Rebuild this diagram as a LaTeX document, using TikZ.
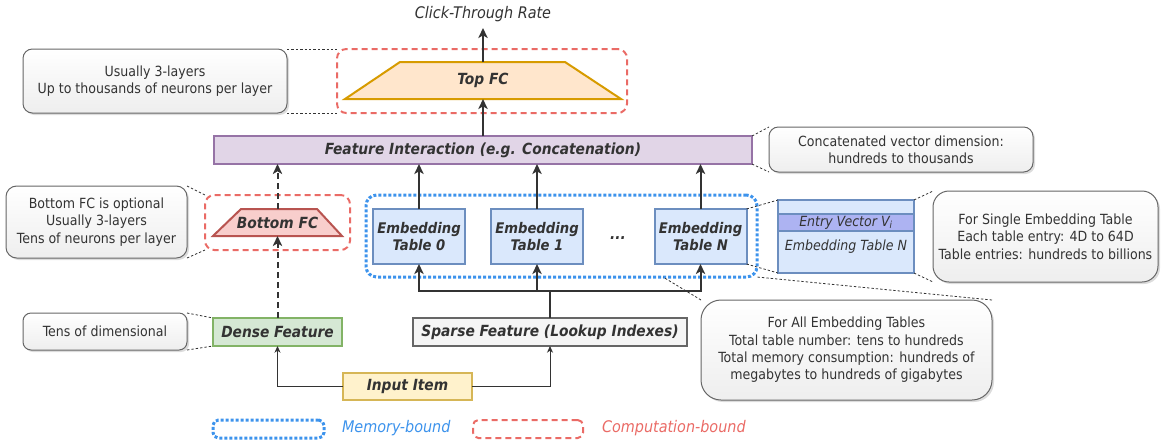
\documentclass[tikz,border=0pt]{standalone}
\usepackage{fontspec}
\setmainfont{DejaVuSansCondensed}[Extension=.ttf, UprightFont=*, BoldFont=*-Bold, ItalicFont=*-Oblique, BoldItalicFont=*-BoldOblique]
\usetikzlibrary{arrows.meta,shadows}
\definecolor{txt}{HTML}{333333}
\definecolor{annline}{HTML}{666666}
\definecolor{anngray}{HTML}{EEEEEE}
\definecolor{redc}{HTML}{EA6B66}
\definecolor{bluec}{HTML}{3D93EC}
\definecolor{topfill}{HTML}{FFE6CC}
\definecolor{topline}{HTML}{D79B00}
\definecolor{botfill}{HTML}{F8CECC}
\definecolor{botline}{HTML}{B85450}
\definecolor{fifill}{HTML}{E1D5E7}
\definecolor{filine}{HTML}{9673A6}
\definecolor{etfill}{HTML}{DAE8FC}
\definecolor{etline}{HTML}{6C8EBF}
\definecolor{entryfill}{HTML}{ADB3F2}
\definecolor{dnfill}{HTML}{D5E8D4}
\definecolor{dnline}{HTML}{82B366}
\definecolor{spfill}{HTML}{F5F5F5}
\definecolor{spline}{HTML}{666666}
\definecolor{infill}{HTML}{FFF2CC}
\definecolor{inline}{HTML}{D6B656}
\begin{document}
\begin{tikzpicture}[x=0.75pt,y=-0.75pt,
  sz/.style 2 args={minimum width=#1*0.75pt, minimum height=#2*0.75pt},
  base/.style={inner sep=0pt, outer sep=0pt, align=center, text=txt},
  lbl/.style={base, font=\fontsize{11.5}{14}\selectfont\bfseries\itshape},
  blk/.style={lbl, draw, line width=1.5pt},
  tbl/.style={blk, draw=etline, fill=etfill, sz={92}{55}, font=\fontsize{11}{12.75}\selectfont\bfseries\itshape},
  ann/.style={base, draw=annline, line width=0.75pt, top color=white, bottom color=anngray,
    drop shadow={shadow xshift=1.5pt, shadow yshift=-1.5pt, fill=black!30, opacity=0.45},
    font=\fontsize{10.5}{13}\selectfont},
  cgrp/.style={base, draw=redc, line width=1.5pt, dash pattern=on 4.5pt off 3pt, rounded corners=7pt},
  mgrp/.style={base, draw=bluec, line width=2.25pt, dash pattern=on 2.25pt off 1.5pt, rounded corners=8pt},
  arr/.style={draw=txt, line width=1.5pt, -{Stealth[length=7.5pt,width=7pt,inset=2pt]}},
  darr/.style={arr, dash pattern=on 4.5pt off 3pt},
  tarr/.style={draw=txt, line width=0.75pt, -{Stealth[length=5pt,width=4.5pt,inset=1.5pt]}},
  dline/.style={draw=txt, line width=0.6pt, dash pattern=on 1.8pt off 1.5pt},
  legtxt/.style={base, anchor=west, font=\fontsize{12}{14}\selectfont\itshape}]
\useasboundingbox (0,0) rectangle (1167,444);

% top part
\node[base, font=\fontsize{12}{14}\selectfont\itshape, minimum height=28*0.75pt] (ctr) at (483,14) {Click-Through Rate};
\node[cgrp, sz={290}{64}] (topgrp) at (482,81) {};
\draw[line width=1.5pt, draw=topline, fill=topfill] (345,99) -- (400,62) -- (565,62) -- (621,99) -- cycle;
\node[lbl, sz={276}{37}] (topfc) at (483,80.5) {Top FC};
\node[blk, draw=filine, fill=fifill, sz={538}{28}] (fi) at (483,150) {Feature Interaction (e.g. Concatenation)};
\node[ann, rounded corners=7pt, sz={264}{64}] (ann1) at (155,81) {Usually 3-layers\\Up to thousands of neurons per layer};
\node[ann, rounded corners=7pt, sz={264}{45}] (ann4) at (901,149.5) {Concatenated vector dimension:\\hundreds to thousands};

% bottom FC
\node[cgrp, sz={145}{55}] (botgrp) at (277.5,222.5) {};
\draw[line width=1.5pt, draw=botline, fill=botfill] (213,236) -- (241,209) -- (317,209) -- (342,236) -- cycle;
\node[lbl, sz={129}{27}] (botfc) at (277.5,222.5) {Bottom FC};
\node[ann, rounded corners=8pt, sz={181}{72}] (ann2) at (96.5,222) {Bottom FC is optional\\Usually 3-layers\\Tens of neurons per layer};

% embedding tables
\node[mgrp, sz={391}{82}] (embgrp) at (561.5,236) {};
\node[tbl] (et0) at (419,236.5) {Embedding\\Table 0};
\node[tbl] (et1) at (537,236.5) {Embedding\\Table 1};
\node[tbl] (etN) at (700.5,236.5) {Embedding\\Table N};
\node[lbl] (dots) at (618,238) {...};

% detail of a table
\node[base, draw=etline, fill=etfill, line width=1.1pt, sz={136}{73}] (det) at (846,236.5) {};
\node[base, draw=etline, fill=entryfill, line width=1.1pt, sz={136}{17}, font=\fontsize{10.5}{12}\selectfont\itshape] (entry) at (846,222.5) {Entry Vector V\textsubscript{i}};
\node[base, font=\fontsize{10.5}{12}\selectfont\itshape] (dettxt) at (846,247) {Embedding Table N};
\node[ann, rounded corners=12pt, sz={225}{91}] (ann3) at (1045.5,236.5) {For Single Embedding Table\\Each table entry: 4D to 64D\\Table entries: hundreds to billions};

% inputs
\node[blk, draw=dnline, fill=dnfill, sz={129}{28}] (dense) at (277.5,332) {Dense Feature};
\node[blk, draw=spline, fill=spfill, sz={274}{28}] (sparse) at (550,332) {Sparse Feature (Lookup Indexes)};
\node[blk, draw=inline, fill=infill, sz={129}{27}] (input) at (407.5,386.5) {Input Item};
\node[ann, rounded corners=6pt, sz={164}{37}] (ann5) at (105,331.5) {Tens of dimensional};
\node[ann, rounded corners=15pt, sz={291}{100}] (ann6) at (846.5,350) {For All Embedding Tables\\Total table number: tens to hundreds\\Total memory consumption: hundreds of\\megabytes to hundreds of gigabytes};

% legend
\node[mgrp, sz={111}{18}, rounded corners=4pt] (lm) at (268.5,429) {};
\node[legtxt, text=bluec] (lmt) at (342,428) {Memory-bound};
\node[cgrp, sz={110}{18}, rounded corners=4pt] (lc) at (528,429) {};
\node[legtxt, text=redc] (lct) at (602,428) {Computation-bound};

% connectors
\draw[arr] (fi.north) -- (topfc.south);
\draw[arr] (topfc.north) -- (ctr.south);
\draw[darr] (botfc.north) -- (botfc.north |- fi.south);
\draw[darr] (dense.north) -- (botfc.south);
\draw[arr] (et0.north) -- (et0.north |- fi.south);
\draw[arr] (et1.north) -- (et1.north |- fi.south);
\draw[arr] (etN.north) -- (etN.north |- fi.south);
\coordinate (jn) at (550,291);
\draw[draw=txt, line width=1.5pt] (sparse.north) -- (sparse.north |- jn);
\draw[arr] (sparse.north |- jn) -| (et0.south);
\draw[arr] (sparse.north |- jn) -| (et1.south);
\draw[arr] (sparse.north |- jn) -| (etN.south);
\draw[tarr] (input.west) -| (dense.south);
\draw[tarr] (input.east) -| (sparse.south);

% annotation leaders
\draw[dline] (ann1.north east) -- (topgrp.north west);
\draw[dline] (ann1.south east) -- (topgrp.south west);
\draw[dline] (fi.north east) -- (ann4.north west);
\draw[dline] (fi.south east) -- (ann4.south west);
\draw[dline] (ann2.north east) -- (botgrp.north west);
\draw[dline] (ann2.south east) -- (botgrp.south west);
\draw[dline] (etN.north east) -- (det.north west);
\draw[dline] (etN.south east) -- (det.south west);
\draw[dline] (det.north east) -- (ann3.north west);
\draw[dline] (det.south east) -- (ann3.south west);
\draw[dline] (ann5.north east) -- (dense.north west);
\draw[dline] (ann5.south east) -- (dense.south west);
\coordinate (gb) at (663,277);
\draw[dline] (ann6.north west) -- (gb);
\draw[dline] (ann6.north east) -- (embgrp.south east);
\end{tikzpicture}
\end{document}
